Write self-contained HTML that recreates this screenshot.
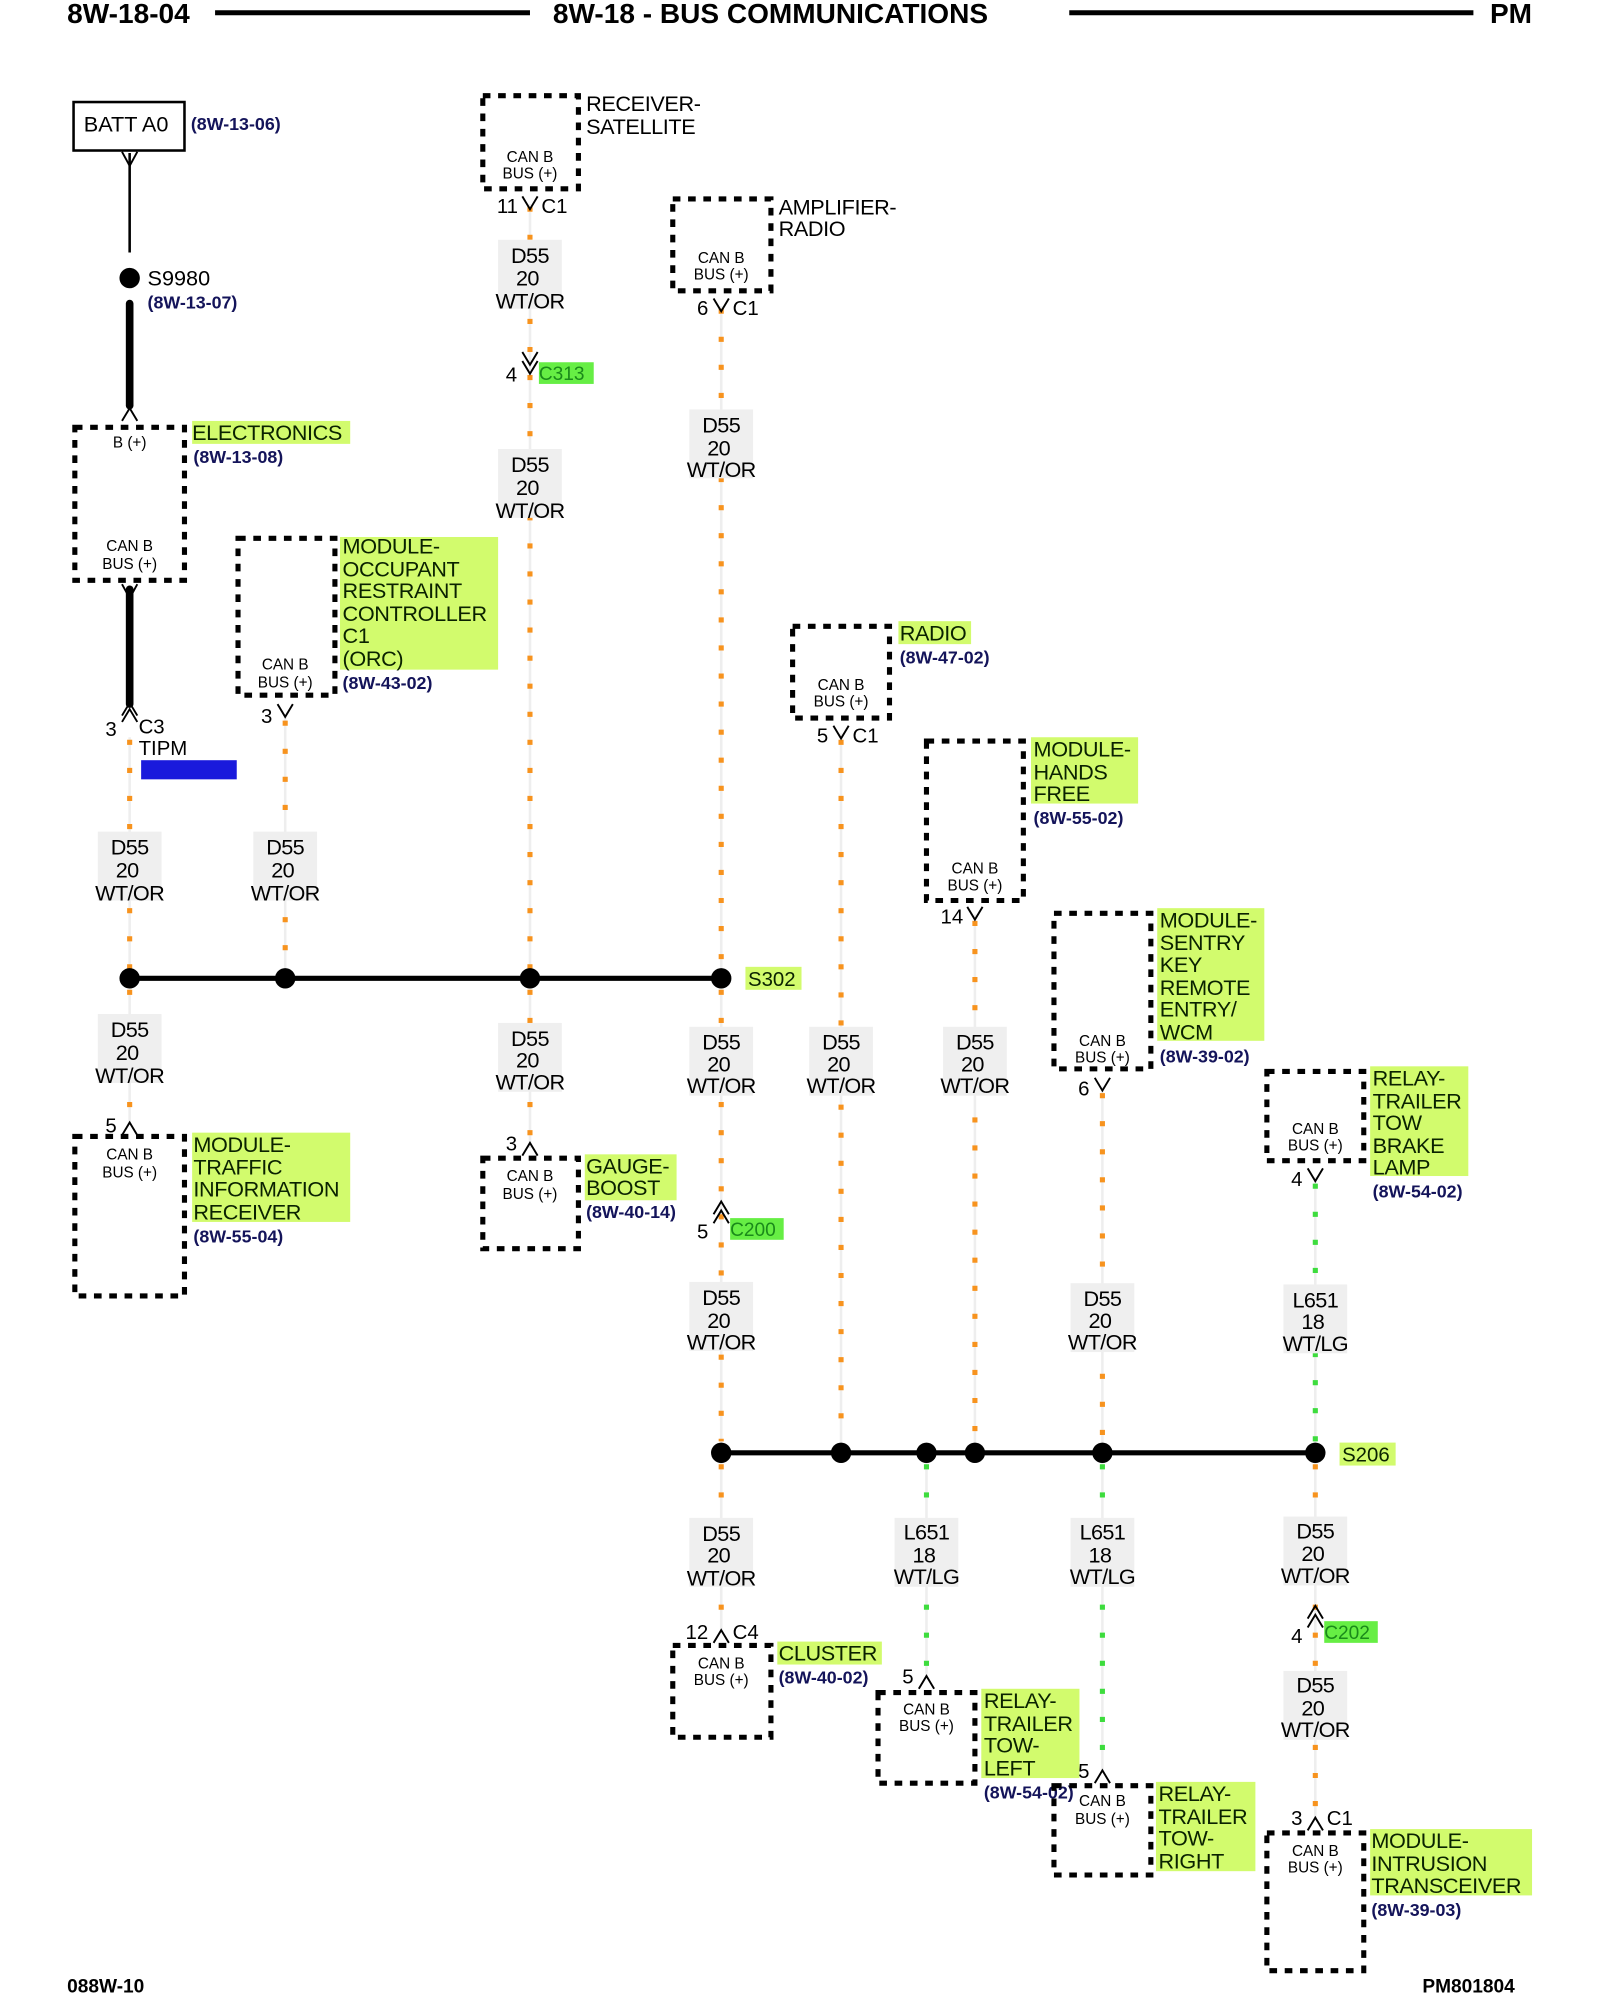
<!DOCTYPE html>
<html><head><meta charset="utf-8"><style>
html,body{margin:0;padding:0;background:#fff;width:1600px;height:2000px;overflow:hidden}
svg{display:block}
text{font-family:"Liberation Sans",sans-serif;fill:#000}
.h{font-size:22px;font-weight:bold}
.w{font-size:17px;text-anchor:middle;letter-spacing:-0.5px}
.n{font-size:17px;fill:#0a2200;letter-spacing:-0.3px}
.r{font-size:14px;fill:#14145a;font-weight:bold}
.c{font-size:12px;text-anchor:middle}
.p{font-size:16px}
.box{fill:none;stroke:#000;stroke-width:4;stroke-dasharray:6 6}
.or{stroke:#f7931e;stroke-width:4;stroke-dasharray:4 18}
.gr{stroke:#3ddc3d;stroke-width:4;stroke-dasharray:4 18}
.fl{stroke:#eee;stroke-width:2}
.wb{fill:#efefef}
.yb{fill:#d2fb6d}
.v{fill:none;stroke:#000;stroke-width:1.5}
</style></head><body>
<svg width="1600" height="2000" viewBox="-0.7 0 1255 1568" preserveAspectRatio="none" xmlns="http://www.w3.org/2000/svg">
<!-- header -->
<text class="h" x="52" y="18">8W-18-04</text>
<line x1="168" y1="10" x2="415" y2="10" stroke="#000" stroke-width="4"/>
<text class="h" x="433" y="18">8W-18 - BUS COMMUNICATIONS</text>
<line x1="838" y1="10" x2="1155" y2="10" stroke="#000" stroke-width="4"/>
<text class="h" x="1168" y="18">PM</text>
<text x="52" y="1562" style="font-size:15px;font-weight:bold">088W-10</text>
<text x="1115" y="1562" style="font-size:15px;font-weight:bold">PM801804</text>

<!-- faint wire lines -->
<g class="fl">
<line x1="101" y1="578" x2="101" y2="880"/><line x1="223" y1="560" x2="223" y2="767"/>
<line x1="415" y1="160" x2="415" y2="900"/><line x1="565" y1="240" x2="565" y2="1280"/>
<line x1="659" y1="575" x2="659" y2="1139"/><line x1="764" y1="717" x2="764" y2="1139"/>
<line x1="864" y1="852" x2="864" y2="1390"/><line x1="1031" y1="923" x2="1031" y2="1425"/>
<line x1="726" y1="1139" x2="726" y2="1314"/>
</g>
<!-- dotted wires -->
<g class="or">
<line x1="101" y1="580" x2="101" y2="760"/><line x1="101" y1="776" x2="101" y2="875"/>
<line x1="223" y1="565" x2="223" y2="760"/>
<line x1="415" y1="162" x2="415" y2="760"/><line x1="415" y1="776" x2="415" y2="895"/>
<line x1="565" y1="242" x2="565" y2="760"/><line x1="565" y1="776" x2="565" y2="1130"/><line x1="565" y1="1148" x2="565" y2="1275"/>
<line x1="659" y1="580" x2="659" y2="1130"/>
<line x1="764" y1="722" x2="764" y2="1130"/>
<line x1="864" y1="857" x2="864" y2="1130"/>
<line x1="1031" y1="1148" x2="1031" y2="1420"/>
</g>
<g class="gr">
<line x1="1031" y1="928" x2="1031" y2="1130"/>
<line x1="726" y1="1148" x2="726" y2="1310"/>
<line x1="864" y1="1148" x2="864" y2="1385"/>
</g>

<!-- left solid -->
<rect x="57" y="80" width="87" height="38" fill="none" stroke="#000" stroke-width="2"/>
<text x="65" y="103" style="font-size:17px">BATT A0</text>
<text class="r" x="149" y="102">(8W-13-06)</text>
<path class="v" d="M95,119 L101,130 L107,119"/>
<line x1="101" y1="120" x2="101" y2="198" stroke="#000" stroke-width="2"/>
<circle cx="101" cy="218" r="8"/>
<text x="115" y="224" style="font-size:17px">S9980</text>
<text class="r" x="115" y="242">(8W-13-07)</text>
<line x1="101" y1="238" x2="101" y2="318" stroke="#000" stroke-width="6" stroke-linecap="round"/>
<path class="v" d="M95,330 L101,320 L107,330"/>
<line x1="101" y1="462" x2="101" y2="552" stroke="#000" stroke-width="6" stroke-linecap="round"/>
<path class="v" d="M95,458 L101,469 L107,458"/>
<path class="v" d="M95,561 L101,551 L107,561 M95,566 L101,556 L107,566"/>
<text class="p" x="82" y="577">3</text><text class="p" x="108" y="575">C3</text>
<text class="p" x="108" y="592">TIPM</text>
<rect x="110" y="596" width="75" height="15" fill="#1a1adc"/>

<!-- boxes -->
<rect class="box" x="58" y="335" width="86" height="120"/>
<text class="c" x="101" y="351">B (+)</text>
<text class="c" x="101" y="432">CAN B</text><text class="c" x="101" y="446">BUS (+)</text>
<rect class="yb" x="150" y="330" width="124" height="18"/>
<text class="n" x="150" y="345">ELECTRONICS</text>
<text class="r" x="151" y="363">(8W-13-08)</text>

<rect class="box" x="186" y="422" width="76" height="123"/>
<text class="c" x="223" y="525">CAN B</text><text class="c" x="223" y="539">BUS (+)</text>
<rect class="yb" x="266" y="421" width="124" height="104"/>
<text class="n"><tspan x="268" y="434">MODULE-</tspan><tspan x="268" y="452">OCCUPANT</tspan><tspan x="268" y="469">RESTRAINT</tspan><tspan x="268" y="487">CONTROLLER</tspan><tspan x="268" y="504">C1</tspan><tspan x="268" y="522">(ORC)</tspan></text>
<text class="r" x="268" y="540">(8W-43-02)</text>
<path class="v" d="M217,552 L223,562 L229,552"/><text class="p" x="204" y="567">3</text>

<rect class="box" x="378" y="75" width="75" height="73"/>
<text class="c" x="415" y="127">CAN B</text><text class="c" x="415" y="140">BUS (+)</text>
<text class="n" style="fill:#000"><tspan x="459" y="87">RECEIVER-</tspan><tspan x="459" y="105">SATELLITE</tspan></text>
<path class="v" d="M409,154 L415,164 L421,154"/><text class="p" x="389" y="167">11</text><text class="p" x="424" y="167">C1</text>

<rect class="box" x="527" y="156" width="77" height="72"/>
<text class="c" x="565" y="206">CAN B</text><text class="c" x="565" y="219">BUS (+)</text>
<text class="n" style="fill:#000"><tspan x="610" y="168">AMPLIFIER-</tspan><tspan x="610" y="185">RADIO</tspan></text>
<path class="v" d="M559,234 L565,244 L571,234"/><text class="p" x="546" y="247">6</text><text class="p" x="574" y="247">C1</text>

<path class="v" d="M409,276 L415,286 L421,276 M409,283 L415,293 L421,283"/>
<text class="p" x="396" y="299">4</text>
<rect x="422" y="284" width="43" height="17" fill="#66ee44"/>
<text x="422" y="298" style="font-size:15px;fill:#1a8a1a">C313</text>

<rect class="box" x="621" y="491" width="76" height="72"/>
<text class="c" x="659" y="541">CAN B</text><text class="c" x="659" y="554">BUS (+)</text>
<rect class="yb" x="704" y="487" width="57" height="18"/>
<text class="n" x="705" y="502">RADIO</text>
<text class="r" x="705" y="520">(8W-47-02)</text>
<path class="v" d="M653,569 L659,579 L665,569"/><text class="p" x="640" y="582">5</text><text class="p" x="668" y="582">C1</text>

<rect class="box" x="726" y="581" width="76" height="125"/>
<text class="c" x="764" y="685">CAN B</text><text class="c" x="764" y="698">BUS (+)</text>
<rect class="yb" x="808" y="578" width="84" height="52"/>
<text class="n"><tspan x="810" y="593">MODULE-</tspan><tspan x="810" y="611">HANDS</tspan><tspan x="810" y="628">FREE</tspan></text>
<text class="r" x="810" y="646">(8W-55-02)</text>
<path class="v" d="M758,711 L764,721 L770,711"/><text class="p" x="737" y="724">14</text>

<rect class="box" x="826" y="716" width="76" height="122"/>
<text class="c" x="864" y="820">CAN B</text><text class="c" x="864" y="833">BUS (+)</text>
<rect class="yb" x="907" y="712" width="84" height="104"/>
<text class="n"><tspan x="909" y="727">MODULE-</tspan><tspan x="909" y="745">SENTRY</tspan><tspan x="909" y="762">KEY</tspan><tspan x="909" y="780">REMOTE</tspan><tspan x="909" y="797">ENTRY/</tspan><tspan x="909" y="815">WCM</tspan></text>
<text class="r" x="909" y="833">(8W-39-02)</text>
<path class="v" d="M858,845 L864,855 L870,845"/><text class="p" x="845" y="859">6</text>

<rect class="box" x="993" y="840" width="76" height="70"/>
<text class="c" x="1031" y="889">CAN B</text><text class="c" x="1031" y="902">BUS (+)</text>
<rect class="yb" x="1074" y="836" width="77" height="86"/>
<text class="n"><tspan x="1076" y="851">RELAY-</tspan><tspan x="1076" y="869">TRAILER</tspan><tspan x="1076" y="886">TOW</tspan><tspan x="1076" y="904">BRAKE</tspan><tspan x="1076" y="921">LAMP</tspan></text>
<text class="r" x="1076" y="939">(8W-54-02)</text>
<path class="v" d="M1025,916 L1031,926 L1037,916"/><text class="p" x="1012" y="930">4</text>

<rect class="box" x="58" y="891" width="86" height="125"/>
<text class="c" x="101" y="909">CAN B</text><text class="c" x="101" y="923">BUS (+)</text>
<rect class="yb" x="150" y="888" width="124" height="70"/>
<text class="n"><tspan x="151" y="903">MODULE-</tspan><tspan x="151" y="921">TRAFFIC</tspan><tspan x="151" y="938">INFORMATION</tspan><tspan x="151" y="956">RECEIVER</tspan></text>
<text class="r" x="151" y="974">(8W-55-04)</text>
<path class="v" d="M95,890 L101,880 L107,890"/><text class="p" x="82" y="888">5</text>

<rect class="box" x="378" y="908" width="75" height="71"/>
<text class="c" x="415" y="926">CAN B</text><text class="c" x="415" y="940">BUS (+)</text>
<rect class="yb" x="458" y="905" width="72" height="36"/>
<text class="n"><tspan x="459" y="920">GAUGE-</tspan><tspan x="459" y="937">BOOST</tspan></text>
<text class="r" x="459" y="955">(8W-40-14)</text>
<path class="v" d="M409,906 L415,896 L421,906"/><text class="p" x="396" y="902">3</text>

<path class="v" d="M559,952 L565,942 L571,952 M559,959 L565,949 L571,959"/>
<text class="p" x="546" y="971">5</text>
<rect x="572" y="955" width="42" height="17" fill="#66ee44"/>
<text x="572" y="969" style="font-size:15px;fill:#1a8a1a">C200</text>

<rect class="box" x="527" y="1290" width="77" height="72"/>
<text class="c" x="565" y="1308">CAN B</text><text class="c" x="565" y="1321">BUS (+)</text>
<rect class="yb" x="609" y="1287" width="82" height="18"/>
<text class="n" x="610" y="1302">CLUSTER</text>
<text class="r" x="610" y="1320">(8W-40-02)</text>
<path class="v" d="M559,1288 L565,1278 L571,1288"/><text class="p" x="537" y="1285">12</text><text class="p" x="574" y="1285">C4</text>

<rect class="box" x="688" y="1327" width="76" height="71"/>
<text class="c" x="726" y="1344">CAN B</text><text class="c" x="726" y="1357">BUS (+)</text>
<rect class="yb" x="769" y="1324" width="77" height="70"/>
<text class="n"><tspan x="771" y="1339">RELAY-</tspan><tspan x="771" y="1357">TRAILER</tspan><tspan x="771" y="1374">TOW-</tspan><tspan x="771" y="1392">LEFT</tspan></text>
<text class="r" x="771" y="1410">(8W-54-02)</text>
<path class="v" d="M720,1324 L726,1314 L732,1324"/><text class="p" x="707" y="1320">5</text>

<rect class="box" x="826" y="1400" width="76" height="70"/>
<text class="c" x="864" y="1416">CAN B</text><text class="c" x="864" y="1430">BUS (+)</text>
<rect class="yb" x="906" y="1397" width="78" height="70"/>
<text class="n"><tspan x="908" y="1412">RELAY-</tspan><tspan x="908" y="1430">TRAILER</tspan><tspan x="908" y="1447">TOW-</tspan><tspan x="908" y="1465">RIGHT</tspan></text>
<path class="v" d="M858,1398 L864,1388 L870,1398"/><text class="p" x="845" y="1394">5</text>

<path class="v" d="M1025,1269 L1031,1259 L1037,1269 M1025,1276 L1031,1266 L1037,1276"/>
<text class="p" x="1012" y="1288">4</text>
<rect x="1038" y="1271" width="42" height="17" fill="#66ee44"/>
<text x="1038" y="1285" style="font-size:15px;fill:#1a8a1a">C202</text>

<rect class="box" x="993" y="1437" width="76" height="108"/>
<text class="c" x="1031" y="1455">CAN B</text><text class="c" x="1031" y="1468">BUS (+)</text>
<rect class="yb" x="1074" y="1434" width="127" height="52"/>
<text class="n"><tspan x="1075" y="1449">MODULE-</tspan><tspan x="1075" y="1467">INTRUSION</tspan><tspan x="1075" y="1484">TRANSCEIVER</tspan></text>
<text class="r" x="1075" y="1502">(8W-39-03)</text>
<path class="v" d="M1025,1435 L1031,1425 L1037,1435"/><text class="p" x="1012" y="1431">3</text><text class="p" x="1040" y="1431">C1</text>

<!-- buses -->
<line x1="101" y1="767" x2="565" y2="767" stroke="#000" stroke-width="4"/>
<circle cx="101" cy="767" r="8"/><circle cx="223" cy="767" r="8"/><circle cx="415" cy="767" r="8"/><circle cx="565" cy="767" r="8"/>
<rect class="yb" x="584" y="758" width="44" height="18"/>
<text x="586" y="773" style="font-size:16px;fill:#0a2200">S302</text>
<line x1="565" y1="1139" x2="1031" y2="1139" stroke="#000" stroke-width="4"/>
<circle cx="565" cy="1139" r="8"/><circle cx="659" cy="1139" r="8"/><circle cx="726" cy="1139" r="8"/><circle cx="764" cy="1139" r="8"/><circle cx="864" cy="1139" r="8"/><circle cx="1031" cy="1139" r="8"/>
<rect class="yb" x="1050" y="1131" width="44" height="18"/>
<text x="1052" y="1146" style="font-size:16px;fill:#0a2200">S206</text>

<!-- wire labels -->
<g>
<rect class="wb" x="390" y="188" width="50" height="54"/><text class="w"><tspan x="415" y="206">D55</tspan><tspan x="413" y="224">20</tspan><tspan x="415" y="242">WT/OR</tspan></text>
<rect class="wb" x="390" y="352" width="50" height="54"/><text class="w"><tspan x="415" y="370">D55</tspan><tspan x="413" y="388">20</tspan><tspan x="415" y="406">WT/OR</tspan></text>
<rect class="wb" x="540" y="321" width="50" height="54"/><text class="w"><tspan x="565" y="339">D55</tspan><tspan x="563" y="357">20</tspan><tspan x="565" y="374">WT/OR</tspan></text>
<rect class="wb" x="76" y="652" width="50" height="54"/><text class="w"><tspan x="101" y="670">D55</tspan><tspan x="99" y="688">20</tspan><tspan x="101" y="706">WT/OR</tspan></text>
<rect class="wb" x="198" y="652" width="50" height="54"/><text class="w"><tspan x="223" y="670">D55</tspan><tspan x="221" y="688">20</tspan><tspan x="223" y="706">WT/OR</tspan></text>
<rect class="wb" x="76" y="795" width="50" height="54"/><text class="w"><tspan x="101" y="813">D55</tspan><tspan x="99" y="831">20</tspan><tspan x="101" y="849">WT/OR</tspan></text>
<rect class="wb" x="390" y="802" width="50" height="54"/><text class="w"><tspan x="415" y="820">D55</tspan><tspan x="413" y="837">20</tspan><tspan x="415" y="854">WT/OR</tspan></text>
<rect class="wb" x="540" y="805" width="50" height="54"/><text class="w"><tspan x="565" y="823">D55</tspan><tspan x="563" y="840">20</tspan><tspan x="565" y="857">WT/OR</tspan></text>
<rect class="wb" x="634" y="805" width="50" height="54"/><text class="w"><tspan x="659" y="823">D55</tspan><tspan x="657" y="840">20</tspan><tspan x="659" y="857">WT/OR</tspan></text>
<rect class="wb" x="739" y="805" width="50" height="54"/><text class="w"><tspan x="764" y="823">D55</tspan><tspan x="762" y="840">20</tspan><tspan x="764" y="857">WT/OR</tspan></text>
<rect class="wb" x="540" y="1005" width="50" height="54"/><text class="w"><tspan x="565" y="1023">D55</tspan><tspan x="563" y="1041">20</tspan><tspan x="565" y="1058">WT/OR</tspan></text>
<rect class="wb" x="839" y="1006" width="50" height="54"/><text class="w"><tspan x="864" y="1024">D55</tspan><tspan x="862" y="1041">20</tspan><tspan x="864" y="1058">WT/OR</tspan></text>
<rect class="wb" x="1006" y="1007" width="50" height="54"/><text class="w"><tspan x="1031" y="1025">L651</tspan><tspan x="1029" y="1042">18</tspan><tspan x="1031" y="1059">WT/LG</tspan></text>
<rect class="wb" x="540" y="1190" width="50" height="54"/><text class="w"><tspan x="565" y="1208">D55</tspan><tspan x="563" y="1225">20</tspan><tspan x="565" y="1243">WT/OR</tspan></text>
<rect class="wb" x="701" y="1190" width="50" height="54"/><text class="w"><tspan x="726" y="1207">L651</tspan><tspan x="724" y="1225">18</tspan><tspan x="726" y="1242">WT/LG</tspan></text>
<rect class="wb" x="839" y="1190" width="50" height="54"/><text class="w"><tspan x="864" y="1207">L651</tspan><tspan x="862" y="1225">18</tspan><tspan x="864" y="1242">WT/LG</tspan></text>
<rect class="wb" x="1006" y="1189" width="50" height="54"/><text class="w"><tspan x="1031" y="1206">D55</tspan><tspan x="1029" y="1224">20</tspan><tspan x="1031" y="1241">WT/OR</tspan></text>
<rect class="wb" x="1006" y="1310" width="50" height="54"/><text class="w"><tspan x="1031" y="1327">D55</tspan><tspan x="1029" y="1345">20</tspan><tspan x="1031" y="1362">WT/OR</tspan></text>
</g>
</svg>
</body></html>
